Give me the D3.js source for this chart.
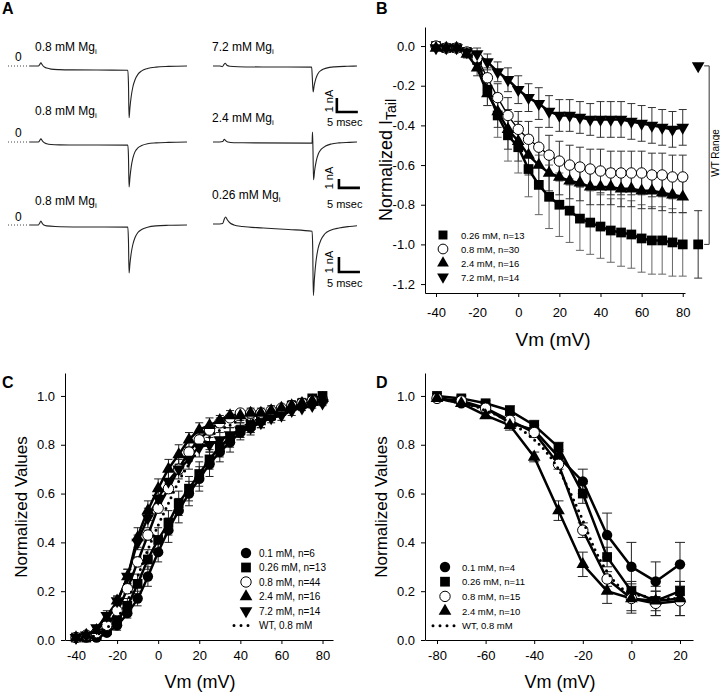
<!DOCTYPE html>
<html><head><meta charset="utf-8">
<script src="https://cdn.jsdelivr.net/npm/d3@7"></script>
<style>body{margin:0;background:#fff} svg{display:block}</style>
</head><body><svg id="fig" width="720" height="694"></svg>
<script>
// ---------------- DATA ----------------
// Panel A traces: [time (ms), current (nA)]
const traceL1 = [[0,0],[2.0,0],[2.3,0.1],[2.6,0.22],[2.9,0.1],[3.3,-0.05],[4,-0.15],[5,-0.22],[7,-0.26],[10,-0.28],[16,-0.29],[23.3,-0.3],[23.45,-1.2],[23.6,-3.7],[23.8,-3.0],[24.1,-2.2],[24.5,-1.5],[25,-1.0],[25.7,-0.6],[26.6,-0.35],[28,-0.18],[30,-0.08],[33,-0.03],[37.4,0]];
const traceR1 = [[0,0],[1.6,0],[2.2,-0.05],[2.6,0.1],[2.9,0.2],[3.3,0.05],[4,-0.02],[6,-0.05],[12,-0.07],[23.5,-0.08],[23.65,-0.8],[23.85,-1.85],[24.1,-1.4],[24.5,-0.9],[25,-0.55],[25.8,-0.3],[27,-0.15],[29,-0.06],[32,-0.02],[34.3,0]];
const traceL2 = [[0,0],[2.0,0],[2.3,0.15],[2.6,0.35],[2.9,0.15],[3.3,-0.05],[4,-0.2],[5,-0.28],[7,-0.32],[12,-0.33],[23.3,-0.35],[23.45,-1.5],[23.6,-5.0],[23.8,-4.0],[24.1,-2.8],[24.5,-1.8],[25,-1.1],[25.7,-0.65],[26.6,-0.4],[28,-0.2],[30,-0.1],[33,-0.04],[37.4,0]];
const traceR2 = [[0,0],[1.6,0],[2.3,0.05],[2.7,0.3],[3.0,0.15],[3.5,0],[5,-0.08],[10,-0.1],[23.6,-0.12],[23.7,1.1],[23.8,-0.5],[23.95,-4.2],[24.2,-3.2],[24.6,-2.1],[25.1,-1.3],[25.8,-0.8],[26.8,-0.45],[28.2,-0.22],[30,-0.1],[32.5,-0.04],[34.3,0]];
const traceL3 = [[0,0],[2.0,0],[2.3,0.12],[2.6,0.27],[2.9,0.12],[3.3,0.0],[4,-0.06],[6,-0.1],[12,-0.13],[23.3,-0.14],[23.45,-1.0],[23.6,-3.2],[23.8,-2.6],[24.1,-1.9],[24.5,-1.3],[25,-0.85],[25.7,-0.5],[26.6,-0.3],[28,-0.15],[30,-0.06],[33,-0.02],[37.4,0]];
const traceR3 = [[0,0.07],[1.6,0.07],[2.3,0.1],[2.7,0.4],[3.0,0.53],[3.4,0.35],[4,0.15],[5,0.0],[7,-0.1],[12,-0.2],[18,-0.3],[23.6,-0.42],[23.75,-1.5],[23.9,-4.7],[24.15,-3.6],[24.5,-2.5],[25,-1.6],[25.7,-1.0],[26.6,-0.6],[28,-0.35],[30,-0.2],[32.5,-0.1],[34.3,-0.05]];
const traceLabelsL = ["0.8 mM Mg","0.8 mM Mg","0.8 mM Mg"];
const traceLabelsR = ["7.2 mM Mg","2.4 mM Mg","0.26 mM Mg"];

// Panel B: normalized tail current
const vmB = [-40,-35,-30,-25,-20,-15,-10,-5,0,5,10,15,20,25,30,35,40,45,50,55,60,65,70,75,80];
const tail026 = [0,-0.01,-0.01,-0.03,-0.07,-0.22,-0.35,-0.45,-0.51,-0.62,-0.70,-0.76,-0.80,-0.83,-0.87,-0.89,-0.91,-0.93,-0.94,-0.95,-0.97,-0.98,-0.98,-0.99,-1.00];
const tail026e = [0,0.01,0.01,0.02,0.04,0.08,0.11,0.13,0.13,0.14,0.15,0.16,0.16,0.16,0.16,0.16,0.16,0.16,0.17,0.17,0.17,0.17,0.17,0.17,0.16];
const tail08 = [0,-0.01,-0.01,-0.03,-0.06,-0.16,-0.26,-0.35,-0.42,-0.47,-0.51,-0.55,-0.58,-0.60,-0.61,-0.62,-0.63,-0.64,-0.64,-0.64,-0.64,-0.65,-0.65,-0.66,-0.66];
const tail08e = [0,0.01,0.01,0.02,0.03,0.05,0.07,0.09,0.09,0.09,0.10,0.10,0.10,0.10,0.10,0.10,0.11,0.11,0.11,0.11,0.11,0.11,0.11,0.11,0.11];
const tail24 = [-0.01,-0.01,-0.01,-0.04,-0.11,-0.24,-0.33,-0.42,-0.48,-0.55,-0.60,-0.64,-0.66,-0.68,-0.69,-0.71,-0.71,-0.71,-0.72,-0.72,-0.73,-0.73,-0.74,-0.75,-0.76];
const tail24e = [0,0.01,0.01,0.02,0.04,0.06,0.08,0.10,0.10,0.10,0.10,0.09,0.09,0.09,0.09,0.09,0.09,0.09,0.09,0.09,0.09,0.09,0.09,0.09,0.08];
const tail72 = [-0.01,-0.01,-0.01,-0.03,-0.04,-0.08,-0.13,-0.17,-0.22,-0.26,-0.29,-0.33,-0.35,-0.35,-0.36,-0.37,-0.37,-0.37,-0.37,-0.38,-0.39,-0.40,-0.41,-0.42,-0.41];
const tail72e = [0,0.01,0.01,0.02,0.03,0.04,0.05,0.06,0.07,0.07,0.08,0.08,0.08,0.08,0.08,0.08,0.09,0.09,0.09,0.09,0.09,0.09,0.09,0.09,0.09];
const wtRangeVm = 87.5;
const wtRangeTop = -0.1;
const wtRangeBottom = -1.0;
const wtRangeBottomErr = 0.17;
const legendB = ["0.26 mM, n=13","0.8 mM, n=30","2.4 mM, n=16","7.2 mM, n=14"];
const xTicksB = [-40,-20,0,20,40,60,80];
const yTicksB = [0.0,-0.2,-0.4,-0.6,-0.8,-1.0,-1.2];

// Panel C: activation
const vmC = [-40,-35,-30,-25,-20,-15,-10,-5,0,5,10,15,20,25,30,35,40,45,50,55,60,65,70,75,80];
const actC01 = [0.01,0.01,0.01,0.03,0.06,0.11,0.17,0.26,0.36,0.45,0.53,0.60,0.66,0.72,0.77,0.81,0.85,0.87,0.90,0.92,0.94,0.96,0.97,0.98,0.99];
const actC01e = [0.01,0.01,0.01,0.01,0.02,0.02,0.03,0.04,0.04,0.05,0.05,0.05,0.05,0.05,0.04,0.04,0.03,0.03,0.03,0.02,0.02,0.02,0.01,0.01,0.01];
const actC026 = [0.01,0.01,0.02,0.04,0.08,0.14,0.23,0.33,0.41,0.48,0.56,0.62,0.68,0.74,0.79,0.83,0.86,0.88,0.90,0.92,0.94,0.96,0.97,0.99,1.00];
const actC026e = [0.01,0.01,0.01,0.02,0.02,0.03,0.04,0.04,0.05,0.05,0.05,0.05,0.05,0.04,0.04,0.04,0.03,0.03,0.03,0.02,0.02,0.02,0.02,0.01,0.01];
const actC08 = [0.01,0.02,0.03,0.06,0.12,0.21,0.32,0.43,0.54,0.62,0.70,0.77,0.82,0.86,0.89,0.91,0.93,0.93,0.93,0.94,0.95,0.96,0.97,0.98,0.98];
const actC08e = [0.01,0.01,0.01,0.01,0.02,0.02,0.02,0.02,0.02,0.02,0.02,0.02,0.02,0.02,0.02,0.01,0.01,0.01,0.01,0.01,0.01,0.01,0.01,0.01,0.01];
const actC24 = [0.01,0.02,0.04,0.09,0.16,0.26,0.42,0.53,0.62,0.70,0.76,0.82,0.86,0.88,0.90,0.92,0.92,0.93,0.93,0.94,0.95,0.96,0.97,0.98,0.99];
const actC24e = [0.01,0.01,0.01,0.02,0.02,0.03,0.04,0.04,0.04,0.04,0.04,0.03,0.03,0.03,0.02,0.02,0.02,0.02,0.02,0.02,0.01,0.01,0.01,0.01,0.01];
const actC72 = [0.01,0.02,0.05,0.10,0.16,0.26,0.40,0.50,0.58,0.65,0.70,0.74,0.79,0.80,0.82,0.84,0.86,0.87,0.89,0.91,0.92,0.94,0.95,0.96,0.97];
const actC72e = [0.01,0.01,0.01,0.02,0.02,0.03,0.03,0.04,0.04,0.04,0.04,0.04,0.04,0.03,0.03,0.03,0.03,0.02,0.02,0.02,0.02,0.02,0.01,0.01,0.01];
const actCWT = [0.00,0.01,0.02,0.05,0.09,0.16,0.26,0.37,0.47,0.56,0.65,0.72,0.78,0.83,0.86,0.88,0.90,0.90,0.91,0.92,0.93,0.94,0.95,0.96,0.97];
const legendC = ["0.1 mM, n=6","0.26 mM, n=13","0.8 mM, n=44","2.4 mM, n=16","7.2 mM, n=14","WT, 0.8 mM"];

// Panel D: inactivation
const vmD = [-80,-70,-60,-50,-40,-30,-20,-10,0,10,20];
const inD01 = [0.99,0.97,0.95,0.89,0.86,0.75,0.65,0.43,0.30,0.24,0.31];
const inD01e = [0.01,0.01,0.02,0.02,0.02,0.03,0.05,0.09,0.10,0.08,0.09];
const inD026 = [1.00,0.99,0.97,0.94,0.88,0.79,0.60,0.34,0.20,0.16,0.20];
const inD026e = [0.01,0.01,0.01,0.02,0.02,0.02,0.04,0.04,0.04,0.04,0.04];
const inD08 = [0.99,0.98,0.95,0.90,0.85,0.72,0.45,0.25,0.17,0.15,0.16];
const inD08e = [0.01,0.01,0.01,0.02,0.02,0.02,0.03,0.03,0.05,0.05,0.06];
const inD24 = [0.99,0.97,0.92,0.88,0.75,0.53,0.31,0.20,0.17,0.16,0.17];
const inD24e = [0.01,0.01,0.01,0.02,0.02,0.04,0.05,0.05,0.06,0.06,0.07];
const vmDWT = [-80,-75,-70,-65,-60,-55,-50,-45,-40,-35,-30,-25,-20,-15,-10,-5,0,5,10,15,20];
const inDWT = [0.99,0.98,0.97,0.96,0.94,0.92,0.89,0.86,0.82,0.77,0.70,0.60,0.49,0.37,0.28,0.22,0.19,0.18,0.17,0.17,0.17];
const legendD = ["0.1 mM, n=4","0.26 mM, n=11","0.8 mM, n=15","2.4 mM, n=10","WT, 0.8 mM"];
const xTicksCD_C = [-40,-20,0,20,40,60,80];
const xTicksD = [-80,-60,-40,-20,0,20];
const yTicksCD = [0.0,0.2,0.4,0.6,0.8,1.0];

// ---------------- DRAWING ----------------
const FONT = '"Liberation Sans", Arial, Helvetica, sans-serif';
const svg = d3.select('#fig');
svg.append('rect').attr('width',720).attr('height',694).attr('fill','#fff');

function txt(x, y, s, size, opts={}) {
  const t = svg.append('text').attr('x',x).attr('y',y).attr('font-family',FONT)
    .attr('font-size',size).attr('fill','#000').text(s);
  if (opts.anchor) t.attr('text-anchor',opts.anchor);
  if (opts.weight) t.attr('font-weight',opts.weight);
  return t;
}
function rtxt(x, y, s, size) {
  return svg.append('text').attr('transform',`translate(${x},${y}) rotate(-90)`)
    .attr('text-anchor','middle').attr('font-family',FONT).attr('font-size',size).attr('fill','#000').text(s);
}

// panel letters
txt(2,14,'A',16,{weight:'bold'});
txt(376,14,'B',16,{weight:'bold'});
txt(2,388,'C',16,{weight:'bold'});
txt(376,388,'D',16,{weight:'bold'});

// ---- Panel A ----
const rows = [{y0:66,k:14,bar:[29.5,-3.29],lab:51,labR:51,zero:61,nA:101,ms:126},
              {y0:142,k:9,bar:[30.0,-5.1],lab:115,labR:122,zero:137,nA:178,ms:208},
              {y0:225,k:15,bar:[30.0,-3.13],lab:205,labR:199,zero:221,nA:262,ms:287}];
const xL = d3.scaleLinear().domain([0,37.4]).range([30,187]);
const xR = d3.scaleLinear().domain([0,34.3]).range([213,357]);
const tracesL = [traceL1,traceL2,traceL3];
const tracesR = [traceR1,traceR2,traceR3];
rows.forEach((r,i)=>{
  const y = d3.scaleLinear().domain([0,1]).range([r.y0, r.y0 - r.k]);
  const lineL = d3.line().x(d=>xL(d[0])).y(d=>y(d[1])).curve(d3.curveMonotoneX);
  const lineR = d3.line().x(d=>xR(d[0])).y(d=>y(d[1])).curve(d3.curveMonotoneX);
  svg.append('path').attr('d',lineL(tracesL[i])).attr('fill','none').attr('stroke','#222').attr('stroke-width',1.1);
  svg.append('path').attr('d',lineR(tracesR[i])).attr('fill','none').attr('stroke','#222').attr('stroke-width',1.1);
  svg.append('line').attr('x1',8).attr('x2',xL(0)).attr('y1',y(0)).attr('y2',y(0))
    .attr('stroke','#444').attr('stroke-width',1).attr('stroke-dasharray','1,2');
  txt(15,r.zero,'0',12);
  const tl = txt(35,r.lab,traceLabelsL[i],12);
  tl.append('tspan').attr('dy',3).attr('font-size',8).text('i');
  const tr = txt(212,r.labR,traceLabelsR[i],12);
  tr.append('tspan').attr('dy',3).attr('font-size',8).text('i');
  const [t0,i0] = r.bar;
  const bar = d3.line().x(d=>xR(d[0])).y(d=>y(d[1]));
  svg.append('path').attr('d',bar([[t0,i0+1],[t0,i0],[t0+5,i0]])).attr('fill','none')
    .attr('stroke','#000').attr('stroke-width',2.6);
  rtxt(333,r.nA,'1 nA',11);
  txt(327,r.ms,'5 msec',11);
});

// ---- helpers for plots ----
function drawAxes(x, y, xt, yt, xpad) {
  const gx = svg.append('g').attr('transform',`translate(0,${y.range()[0]})`)
    .call(d3.axisBottom(x).tickValues(xt).tickSize(4).tickSizeOuter(0).tickPadding(xpad).tickFormat(d=>String(d)));
  const gy = svg.append('g').attr('transform',`translate(${x.range()[0]},0)`)
    .call(d3.axisLeft(y).tickValues(yt).tickSize(4).tickSizeOuter(0).tickPadding(6).tickFormat(d=>d.toFixed(1)));
  [gx,gy].forEach(g=>{
    g.attr('font-family',FONT);
    g.selectAll('text').attr('font-size',13).attr('fill','#000');
    g.selectAll('path,line').attr('stroke','#000').attr('stroke-width',1);
  });
}
function symPath(shape, size) {
  const t = shape==='square'?d3.symbolSquare:(shape==='circle'||shape==='open')?d3.symbolCircle:d3.symbolTriangle;
  return d3.symbol().type(t).size(size)();
}
function marker(g, shape, cx, cy, size) {
  const p = g.append('path').attr('d',symPath(shape,size))
    .attr('transform',`translate(${cx},${cy})${shape==='tridown'?' rotate(180)':''}`);
  if (shape==='open') p.attr('fill','#fff').attr('stroke','#000').attr('stroke-width',1);
  else p.attr('fill','#000');
  return p;
}
const SIZES = {square:95,circle:85,open:85,triup:70,tridown:70};
function errorBars(x, y, xs, ys, es, cap, color) {
  const g = svg.append('g').attr('stroke',color).attr('stroke-width',1).attr('fill','none');
  xs.forEach((v,i)=>{
    const e = es[i]; if (!e) return;
    const cx = x(v), y1 = y(ys[i]-e), y2 = y(ys[i]+e);
    g.append('line').attr('x1',cx).attr('x2',cx).attr('y1',y1).attr('y2',y2);
    g.append('line').attr('x1',cx-cap/2).attr('x2',cx+cap/2).attr('y1',y1).attr('y2',y1);
    g.append('line').attr('x1',cx-cap/2).attr('x2',cx+cap/2).attr('y1',y2).attr('y2',y2);
  });
}
function seriesLine(x, y, xs, ys, width, curve, dotted) {
  const l = d3.line().x((d,i)=>x(xs[i])).y(d=>y(d)).curve(curve||d3.curveLinear);
  const p = svg.append('path').attr('d',l(ys)).attr('fill','none').attr('stroke','#000').attr('stroke-width',width);
  if (dotted) p.attr('stroke-dasharray','0,6').attr('stroke-linecap','round').attr('stroke-width',3);
  return p;
}
function markers(x, y, xs, ys, shape) {
  const g = svg.append('g');
  xs.forEach((v,i)=>marker(g, shape, x(v), y(ys[i]), SIZES[shape]));
}

// ---- Panel B ----
const xB = d3.scaleLinear().domain([-45.35,81.1]).range([425,685]);
const yB = d3.scaleLinear().domain([-1.245,0.096]).range([293,27]);
drawAxes(xB, yB, xTicksB, yTicksB, 11);
const seriesB = [
  {y:tail026,e:tail026e,shape:'square',col:'#666',w:2.5},
  {y:tail08,e:tail08e,shape:'open',col:'#333',w:1.4},
  {y:tail24,e:tail24e,shape:'triup',col:'#333',w:2.5},
  {y:tail72,e:tail72e,shape:'tridown',col:'#333',w:2.5}];
seriesB.forEach(s=>errorBars(xB,yB,vmB,s.y,s.e,8,s.col));
seriesB.forEach(s=>seriesLine(xB,yB,vmB,s.y,s.w));
seriesB.forEach(s=>markers(xB,yB,vmB,s.y,s.shape));
errorBars(xB,yB,[wtRangeVm],[wtRangeBottom],[wtRangeBottomErr],8,'#333');
{
  const g = svg.append('g');
  marker(g,'tridown',xB(wtRangeVm),yB(wtRangeTop),SIZES.tridown);
  marker(g,'square',xB(wtRangeVm),yB(wtRangeBottom),SIZES.square);
  const bx = xB(wtRangeVm)+11;
  svg.append('path').attr('d',`M${bx-5},${yB(wtRangeTop)}H${bx}V${yB(wtRangeBottom)}H${bx-5}`)
    .attr('fill','none').attr('stroke','#333').attr('stroke-width',1);
  rtxt(719,153,'WT Range',10);
}
legendB.forEach((s,i)=>{
  const yy = 235 + i*14;
  marker(svg,seriesB[i].shape,443,yy,seriesB[i].shape==='square'?80:(seriesB[i].shape==='open'?75:60));
  txt(461,yy+3.5,s,9.5);
});
txt(553,346,'Vm (mV)',19,{anchor:'middle'});
{
  const t = svg.append('text').attr('transform','translate(392,160) rotate(-90)').attr('text-anchor','middle')
    .attr('font-family',FONT).attr('font-size',18).attr('fill','#000').text('Normalized I');
  t.append('tspan').attr('dy',4).attr('font-size',14).text('Tail');
}

// ---- Panel C ----
const xC = d3.scaleLinear().domain([-45.35,85.1]).range([65,333]);
const yC = d3.scaleLinear().domain([0,1.094]).range([640,373]);
drawAxes(xC, yC, xTicksCD_C, yTicksCD, 7);
const seriesC = [
  {y:actC01,e:actC01e,shape:'circle'},
  {y:actC026,e:actC026e,shape:'square'},
  {y:actC08,e:actC08e,shape:'open'},
  {y:actC24,e:actC24e,shape:'triup'},
  {y:actC72,e:actC72e,shape:'tridown'}];
seriesC.forEach(s=>errorBars(xC,yC,vmC,s.y,s.e,8,'#222'));
seriesC.forEach(s=>seriesLine(xC,yC,vmC,s.y,2.5,d3.curveMonotoneX));
seriesC.forEach(s=>markers(xC,yC,vmC,s.y,s.shape));
seriesLine(xC,yC,vmC,actCWT,3,d3.curveMonotoneX,true);
legendC.forEach((s,i)=>{
  const yy = 553 + i*14.5;
  if (i<5) marker(svg,seriesC[i].shape,246,yy,SIZES[seriesC[i].shape]);
  else svg.append('line').attr('x1',234).attr('x2',255).attr('y1',yy).attr('y2',yy)
    .attr('stroke','#000').attr('stroke-width',3).attr('stroke-dasharray','0,7').attr('stroke-linecap','round');
  txt(259,yy+3.5,s,10);
});
txt(200,688,'Vm (mV)',18,{anchor:'middle'});
rtxt(27,507,'Normalized Values',17);

// ---- Panel D ----
const xD = d3.scaleLinear().domain([-84.94,25.35]).range([425,693]);
const yD = d3.scaleLinear().domain([0,1.094]).range([640,373]);
drawAxes(xD, yD, xTicksD, yTicksCD, 7);
const seriesD = [
  {y:inD01,e:inD01e,shape:'circle'},
  {y:inD026,e:inD026e,shape:'square'},
  {y:inD08,e:inD08e,shape:'open'},
  {y:inD24,e:inD24e,shape:'triup'}];
seriesD.forEach(s=>errorBars(xD,yD,vmD,s.y,s.e,10,'#222'));
seriesD.forEach(s=>seriesLine(xD,yD,vmD,s.y,2.5));
seriesD.forEach(s=>markers(xD,yD,vmD,s.y,s.shape));
seriesLine(xD,yD,vmDWT,inDWT,3,d3.curveMonotoneX,true);
legendD.forEach((s,i)=>{
  const yy = 567 + i*14.7;
  if (i<4) marker(svg,seriesD[i].shape,445,yy,SIZES[seriesD[i].shape]);
  else svg.append('line').attr('x1',433).attr('x2',456).attr('y1',yy).attr('y2',yy)
    .attr('stroke','#000').attr('stroke-width',3).attr('stroke-dasharray','0,7').attr('stroke-linecap','round');
  txt(462,yy+3.5,s,9.5);
});
txt(560,688,'Vm (mV)',18,{anchor:'middle'});
rtxt(387,507,'Normalized Values',17);
</script></body></html>
